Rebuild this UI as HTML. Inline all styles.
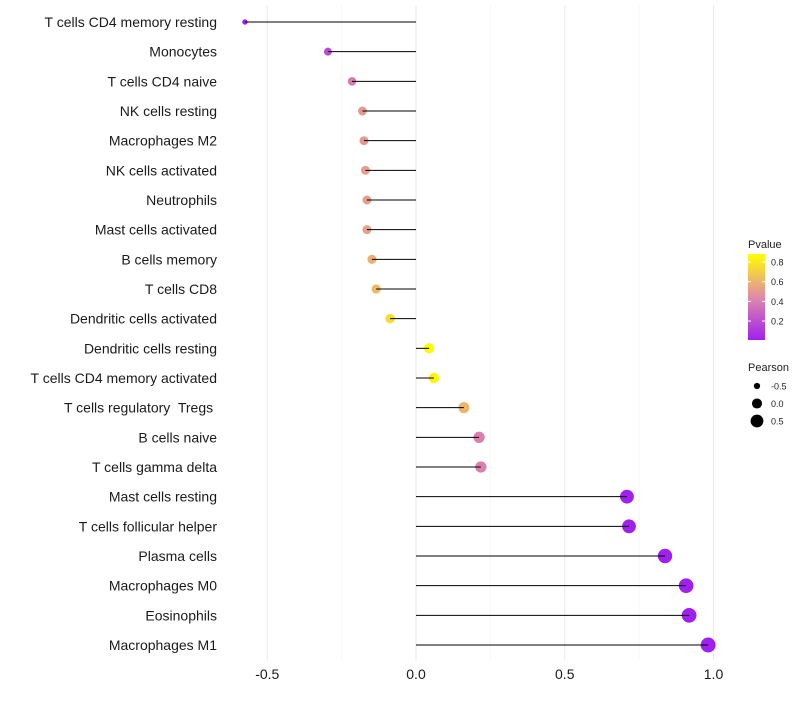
<!DOCTYPE html>
<html><head><meta charset="utf-8"><style>
body{margin:0;background:#fff;font-family:"Liberation Sans",sans-serif}
svg text{font-family:"Liberation Sans",sans-serif;white-space:pre}
</style></head><body>
<svg id="chart" width="800" height="700" xml:space="preserve">
<defs><linearGradient id="pg" x1="0" y1="1" x2="0" y2="0">
<stop offset="0" stop-color="#a020f0"/><stop offset="0.5" stop-color="#e08aa8"/><stop offset="1" stop-color="#ffff00"/>
</linearGradient></defs>
<g id="grid"></g>
<g id="points"></g>
<g id="marks"></g>
<g id="ylabels"></g>
<g id="xlabels"></g>
<g>
<text x="748" y="248" font-size="11" fill="#222">Pvalue</text>
<rect x="748" y="254" width="17" height="86" fill="url(#pg)"/>
<g id="cbticks"></g>
</g>
<g>
<text x="748" y="371" font-size="11" fill="#222">Pearson</text>
<g id="sizeleg"></g>
</g>
</svg>
<script>
const categories=["T cells CD4 memory resting","Monocytes","T cells CD4 naive","NK cells resting","Macrophages M2","NK cells activated","Neutrophils","Mast cells activated","B cells memory","T cells CD8","Dendritic cells activated","Dendritic cells resting","T cells CD4 memory activated","T cells regulatory  Tregs ","B cells naive","T cells gamma delta","Mast cells resting","T cells follicular helper","Plasma cells","Macrophages M0","Eosinophils","Macrophages M1"];
const pearson=[-0.575,-0.296,-0.215,-0.18,-0.175,-0.17,-0.165,-0.165,-0.148,-0.134,-0.087,0.044,0.06,0.161,0.212,0.218,0.709,0.716,0.837,0.908,0.918,0.982];
const pvalue=[0.005,0.18,0.38,0.5,0.5,0.52,0.52,0.53,0.58,0.62,0.75,0.87,0.84,0.6,0.4,0.4,0.001,0.001,0.0,0.0,0.0,0.0];
const xTicks=[-0.5,0,0.5,1.0];
const xTickLabels=["-0.5","0.0","0.5","1.0"];
const cbTicks=[0.2,0.4,0.6,0.8];
const sizeLegend=[-0.5,0,0.5];
const NS="http://www.w3.org/2000/svg";
const x=v=>416+v*297.5;
const y=i=>22+i*(623/21);
const r=v=>Math.sqrt(Math.max(2,25.4+31.4*v));
const pc=p=>{const t=Math.max(0,Math.min(1,p/0.88));const s=[[160,32,240],[224,138,168],[255,255,0]];let a,b,u;if(t<0.5){a=s[0];b=s[1];u=t/0.5}else{a=s[1];b=s[2];u=(t-0.5)/0.5}return `rgb(${a.map((c,k)=>Math.round(c+(b[k]-c)*u)).join(',')})`};
const cy=p=>340-(p-0.007)*98.3;
function mk(tag,attrs,parent){const e=document.createElementNS(NS,tag);for(const k in attrs)e.setAttribute(k,attrs[k]);parent.appendChild(e);return e}
const grid=document.getElementById('grid');
[-0.25,0.25,0.75].forEach(v=>{const l=mk('line',{x1:x(v),x2:x(v),y1:5,y2:660,stroke:'#f3f3f3','stroke-width':0.6},grid);});
xTicks.forEach(v=>{const l=mk('line',{x1:x(v),x2:x(v),y1:5,y2:660,stroke:'#ebebeb','stroke-width':1.1},grid);});
const marks=document.getElementById('marks'),pts=document.getElementById('points'),yl=document.getElementById('ylabels'),xl=document.getElementById('xlabels');
categories.forEach((c,i)=>{
const s=mk('line',{x1:x(0),x2:x(pearson[i]),y1:y(i),y2:y(i),stroke:'#000','stroke-width':1},marks);


const d=mk('circle',{cx:x(pearson[i]),cy:y(i),r:r(pearson[i]),fill:pc(pvalue[i])},pts);


const t=mk('text',{x:217,y:y(i)+5,'text-anchor':'end','font-size':14,fill:'#1a1a1a'},yl);t.textContent=c;


});
xTicks.forEach((v,i)=>{const t=mk('text',{x:x(v),y:679,'text-anchor':'middle','font-size':14,fill:'#1a1a1a'},xl);t.textContent=xTickLabels[i];

});
const cb=document.getElementById('cbticks');
cbTicks.forEach(p=>{mk('line',{x1:748,x2:751,y1:cy(p),y2:cy(p),stroke:'#fff'},cb);mk('line',{x1:762,x2:765,y1:cy(p),y2:cy(p),stroke:'#fff'},cb);
const t=mk('text',{x:771,y:cy(p)+3.5,'font-size':9,fill:'#222'},cb);t.textContent=p.toFixed(1);

});
const sl=document.getElementById('sizeleg');
sizeLegend.forEach((v,i)=>{const yy=386+i*17.5;const c=mk('circle',{cx:757,cy:yy,r:r(v),fill:'#000'},sl);


const t=mk('text',{x:771,y:yy+3.5,'font-size':9,fill:'#222'},sl);t.textContent=v.toFixed(1);

});
</script>
</body></html>
